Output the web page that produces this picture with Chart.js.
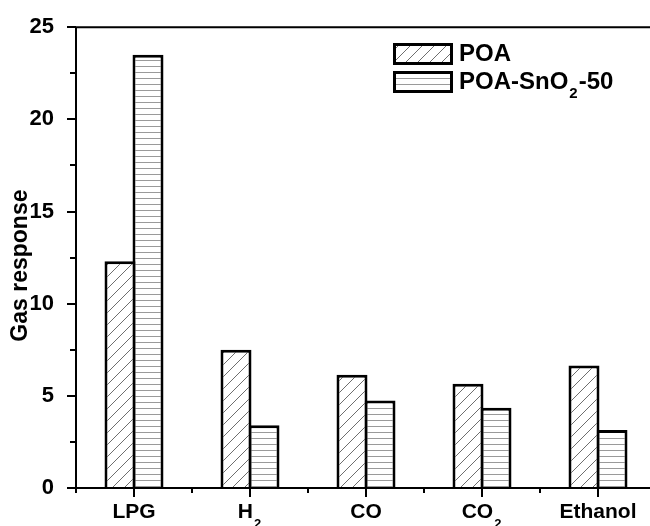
<!DOCTYPE html>
<html>
<head>
<meta charset="utf-8">
<script src="https://cdn.jsdelivr.net/npm/chart.js@4"></script>
<style>
  html, body { margin: 0; padding: 0; overflow: hidden; background: #fff; }
  #wrap { width: 650px; height: 526px; overflow: hidden; }
  canvas { display: block; }
</style>
</head>
<body>
<div id="wrap"><canvas id="c" width="662" height="526"></canvas></div>
<script>
// Gas response of POA and POA-SnO2-50 towards different test gases
const categories = ['LPG', 'H₂', 'CO', 'CO₂', 'Ethanol'];
const seriesNames = ['POA', 'POA-SnO₂-50'];
const poaValues = [12.3, 7.5, 6.15, 5.65, 6.65];
const poaSnO2Values = [23.5, 3.4, 4.75, 4.35, 3.15];
const yMin = 0;
const yMax = 25;
const yMajorStep = 5;
const yMinorStep = 2.5;
const yTitle = 'Gas response';

const FONT = "'Liberation Sans', Arial, Helvetica, sans-serif";
const canvas = document.getElementById('c');
const mainCtx = canvas.getContext('2d');

// Fill patterns: diagonal hatch and horizontal lines
function makePattern(kind) {
  const size = kind === 'diag' ? 12 : 6;
  const c = document.createElement('canvas');
  c.width = size; c.height = size;
  const g = c.getContext('2d');
  g.fillStyle = '#fff';
  g.fillRect(0, 0, size, size);
  g.lineWidth = 1;
  g.beginPath();
  if (kind === 'diag') {
    g.strokeStyle = '#6e6e6e';
    g.moveTo(-1, size + 1); g.lineTo(size + 1, -1);
    g.moveTo(-1, 1); g.lineTo(1, -1);
    g.moveTo(size - 1, size + 1); g.lineTo(size + 1, size - 1);
  } else {
    g.strokeStyle = '#9a9a9a';
    g.moveTo(0, 0.5); g.lineTo(size, 0.5);
  }
  g.stroke();
  return mainCtx.createPattern(c, 'repeat');
}
const diagFill = makePattern('diag');
const horizFill = makePattern('horiz');

// Text with subscript digits (₀-₉) drawn smaller and lowered
const SUB_MAP = { '₀':'0','₁':'1','₂':'2','₃':'3','₄':'4','₅':'5','₆':'6','₇':'7','₈':'8','₉':'9' };
function splitRuns(text) {
  const runs = [];
  for (const ch of text) {
    const sub = ch in SUB_MAP;
    const t = sub ? SUB_MAP[ch] : ch;
    const last = runs[runs.length - 1];
    if (last && last.sub === sub) last.t += t; else runs.push({ t, sub });
  }
  return runs;
}
function drawRich(ctx, text, x, y, size, subSize, subDrop, align) {
  const runs = splitRuns(text);
  const fontOf = (r) => 'bold ' + (r.sub ? subSize : size) + 'px ' + FONT;
  let total = 0;
  runs.forEach(r => { ctx.font = fontOf(r); r.w = ctx.measureText(r.t).width + (r.sub ? 2 : 0); total += r.w; });
  let cx = align === 'center' ? x - total / 2 : x;
  ctx.textAlign = 'left';
  ctx.textBaseline = 'alphabetic';
  runs.forEach(r => {
    ctx.font = fontOf(r);
    ctx.fillText(r.t, r.sub ? cx + 1 : cx, r.sub ? y + subDrop : y);
    cx += r.w;
  });
}

const decor = {
  id: 'decor',
  afterDraw(chart) {
    const { ctx, chartArea: a, scales } = chart;
    const x = scales.x, y = scales.y;
    ctx.save();
    ctx.strokeStyle = '#000';
    ctx.fillStyle = '#000';
    ctx.lineWidth = 2;

    // plot frame
    ctx.beginPath();
    ctx.moveTo(a.left, a.bottom); ctx.lineTo(a.left, a.top);
    ctx.lineTo(a.right, a.top); ctx.lineTo(a.right, a.bottom);
    ctx.closePath();
    ctx.stroke();

    // y ticks: major every 5, minor in between
    for (let v = yMin; v <= yMax + 1e-9; v += yMinorStep) {
      const py = Math.round(y.getPixelForValue(v));
      const major = Math.abs(v / yMajorStep - Math.round(v / yMajorStep)) < 1e-6;
      const len = major ? 9 : 6;
      ctx.beginPath(); ctx.moveTo(a.left - len, py); ctx.lineTo(a.left, py); ctx.stroke();
    }

    // x ticks: long ones at the categories, short ones between them
    for (let i = 0; i < categories.length; i++) {
      const px = Math.round(x.getPixelForValue(i));
      ctx.beginPath(); ctx.moveTo(px, a.bottom); ctx.lineTo(px, a.bottom + 9); ctx.stroke();
    }
    for (let i = 0; i <= categories.length; i++) {
      const px = Math.round(x.getPixelForValue(i - 0.5));
      ctx.beginPath(); ctx.moveTo(px, a.bottom); ctx.lineTo(px, a.bottom + 5); ctx.stroke();
    }

    // category labels
    categories.forEach((label, i) => {
      drawRich(ctx, label, x.getPixelForValue(i), a.bottom + 30, 21, 13, 10, 'center');
    });

    // y axis title
    ctx.save();
    ctx.translate(20.5, (a.top + a.bottom) / 2 + 8);
    ctx.rotate(-Math.PI / 2);
    ctx.font = 'bold 23px ' + FONT;
    ctx.textAlign = 'center';
    ctx.textBaseline = 'middle';
    ctx.fillText(yTitle, 0, 0);
    ctx.restore();

    // legend
    const fills = [diagFill, horizFill];
    seriesNames.forEach((name, i) => {
      const bx = 393, by = 43 + i * 28, bw = 60, bh = 22;
      ctx.fillStyle = fills[i];
      ctx.fillRect(bx, by, bw, bh);
      ctx.lineWidth = 3;
      ctx.strokeStyle = '#000';
      ctx.strokeRect(bx + 1.5, by + 1.5, bw - 3, bh - 3);
      ctx.fillStyle = '#000';
      drawRich(ctx, name, bx + bw + 6, by + 18, 24, 15, 9, 'left');
    });
    ctx.restore();
  }
};

new Chart(canvas, {
  type: 'bar',
  data: {
    labels: categories,
    datasets: [
      {
        label: seriesNames[0],
        data: poaValues,
        backgroundColor: diagFill,
        borderColor: '#000',
        borderWidth: 3,
        borderSkipped: 'start',
        categoryPercentage: 0.4828,
        barPercentage: 1.107
      },
      {
        label: seriesNames[1],
        data: poaSnO2Values,
        backgroundColor: horizFill,
        borderColor: '#000',
        borderWidth: 3,
        borderSkipped: 'start',
        categoryPercentage: 0.4828,
        barPercentage: 1.107
      }
    ]
  },
  options: {
    responsive: false,
    devicePixelRatio: 1,
    animation: false,
    layout: { padding: { top: 24, right: 6, left: 0, bottom: 0 } },
    plugins: { legend: { display: false }, tooltip: { enabled: false } },
    scales: {
      x: {
        type: 'category',
        offset: true,
        grid: { display: false },
        border: { display: false },
        ticks: { display: false },
        afterFit(scale) { scale.height = 38; }
      },
      y: {
        min: yMin,
        max: yMax,
        grid: { display: false },
        border: { display: false },
        ticks: {
          stepSize: yMajorStep,
          padding: 14,
          color: '#000',
          font: { family: FONT, size: 22, weight: 'bold' }
        },
        title: { display: false },
        afterFit(scale) { scale.width = 76; }
      }
    }
  },
  plugins: [decor]
});
</script>
</body>
</html>
